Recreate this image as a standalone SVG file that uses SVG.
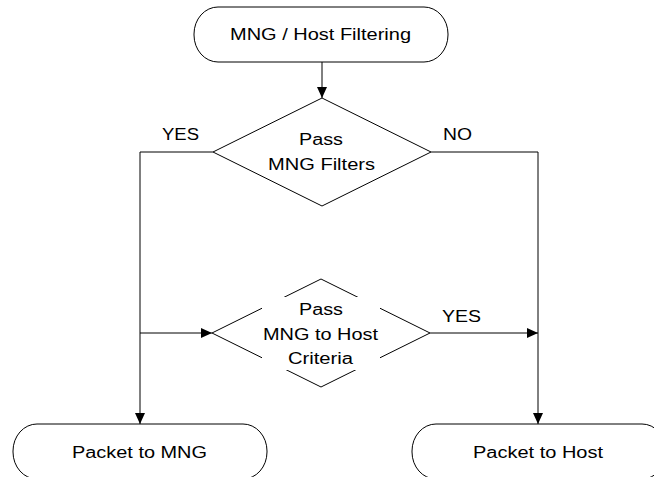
<svg xmlns="http://www.w3.org/2000/svg" width="654" height="477" viewBox="0 0 654 477">
<style>
.shape{fill:#fff;stroke:#000;stroke-width:1}
.conn{fill:none;stroke:#000;stroke-width:1}
.t{font-family:"Liberation Sans",Arial,sans-serif;font-size:16px;fill:#000}
</style>
<defs>
<marker id="arr" markerUnits="userSpaceOnUse" markerWidth="11" markerHeight="10" refX="11" refY="5" orient="auto">
<path d="M0,0 L11,5 L0,10 z" fill="#000"/>
</marker>
</defs>
<rect width="654" height="477" fill="#fff"/>
<g id="connectors">
<line class="conn" x1="322" y1="62" x2="322" y2="98" marker-end="url(#arr)"/>
<polyline class="conn" points="213,152 140,152 140,424" marker-end="url(#arr)"/>
<polyline class="conn" points="431,152 538,152 538,424" marker-end="url(#arr)"/>
<line class="conn" x1="140" y1="333" x2="212" y2="333" marker-end="url(#arr)"/>
<line class="conn" x1="430" y1="333" x2="538" y2="333" marker-end="url(#arr)"/>
<text class="t" x="162" y="140" textLength="37" lengthAdjust="spacingAndGlyphs">YES</text>
<text class="t" x="443" y="140" textLength="29" lengthAdjust="spacingAndGlyphs">NO</text>
<text class="t" x="442" y="322" textLength="39" lengthAdjust="spacingAndGlyphs">YES</text>
</g>
<g id="start">
<rect class="shape" x="194" y="7" width="254" height="55" rx="24" ry="27"/>
<text class="t" x="230" y="40" textLength="181" lengthAdjust="spacingAndGlyphs">MNG / Host Filtering</text>
</g>
<g id="decision1">
<polygon class="shape" points="322,98 431,152 322,206 213,152"/>
<text class="t" x="299" y="145" textLength="44" lengthAdjust="spacingAndGlyphs">Pass</text>
<text class="t" x="268" y="170" textLength="107" lengthAdjust="spacingAndGlyphs">MNG Filters</text>
</g>
<g id="decision2">
<polygon class="shape" points="321,279 430,333 321,387 212,333"/>
<rect x="262" y="297" width="118" height="73" fill="#fff"/>
<text class="t" x="299" y="315" textLength="44" lengthAdjust="spacingAndGlyphs">Pass</text>
<text class="t" x="263" y="340" textLength="115" lengthAdjust="spacingAndGlyphs">MNG to Host</text>
<text class="t" x="288" y="364" textLength="65" lengthAdjust="spacingAndGlyphs">Criteria</text>
</g>
<g id="toMNG">
<rect class="shape" x="13" y="424" width="254" height="55" rx="24" ry="27"/>
<text class="t" x="72" y="458" textLength="135" lengthAdjust="spacingAndGlyphs">Packet to MNG</text>
</g>
<g id="toHost">
<rect class="shape" x="412" y="424" width="254" height="55" rx="24" ry="27"/>
<text class="t" x="473" y="458" textLength="130" lengthAdjust="spacingAndGlyphs">Packet to Host</text>
</g>
</svg>
